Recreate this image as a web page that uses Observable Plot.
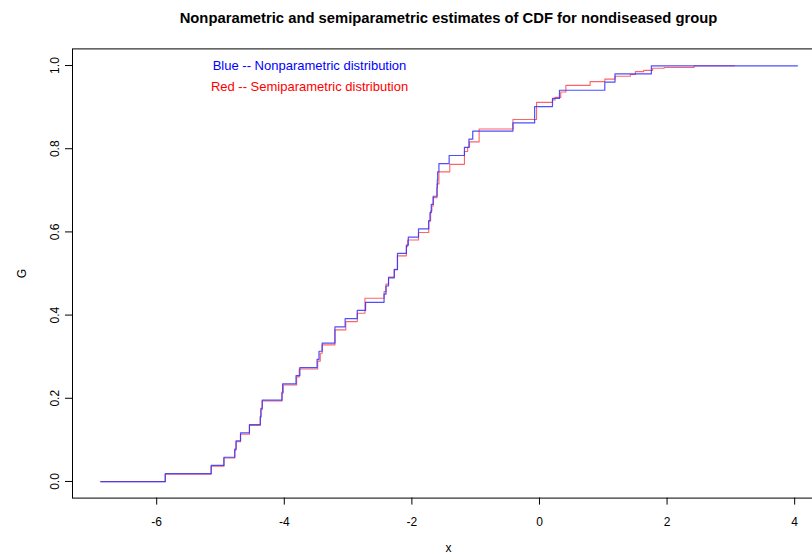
<!DOCTYPE html>
<html><head><meta charset="utf-8">
<script src="https://cdn.jsdelivr.net/npm/d3@7"></script>
<script src="https://cdn.jsdelivr.net/npm/@observablehq/plot@0.6"></script>
<style>
html,body{margin:0;padding:0;background:#fff;overflow:hidden;}
</style></head><body><div id="chart"></div>
<script>
const title = "Nonparametric and semiparametric estimates of CDF for nondiseased group";
const legendLabels = ["Blue -- Nonparametric distribution", "Red -- Semiparametric distribution"];
const legendColors = ["blue", "red"];
const xLabel = "x";
const yLabel = "G";
const xTicks = [-6, -4, -2, 0, 2, 4];
const yTicks = [0, 0.2, 0.4, 0.6, 0.8, 1.0];

// Nonparametric (blue) step function: jump locations and CDF level after jump
const blueX = [-6.88, -5.87, -5.15, -4.95, -4.78, -4.76, -4.69, -4.55, -4.38, -4.37, -4.35, -4.04, -4.03, -3.82, -3.76, -3.49, -3.46, -3.41, -3.21, -3.05, -2.86, -2.73, -2.44, -2.41, -2.37, -2.28, -2.23, -2.09, -2.06, -1.90, -1.74, -1.72, -1.70, -1.67, -1.61, -1.605, -1.60, -1.58, -1.42, -1.18, -1.11, -1.05, -0.42, -0.08, 0.20, 0.31, 1.02, 1.18, 1.75, 4.04];
const blueG = [0, .0196, .0392, .0588, .0784, .098, .1176, .1373, .1569, .1765, .1961, .2157, .2353, .2549, .2745, .2941, .3137, .3333, .3725, .3922, .4118, .4314, .451, .4706, .4902, .5098, .549, .5686, .5882, .6078, .6275, .6471, .6667, .6863, .7059, .7255, .7451, .7647, .7843, .8039, .8235, .8431, .8627, .902, .9216, .9412, .9608, .9804, 1, 1];

// Semiparametric (red) step function
const redX = [-6.88, -5.87, -5.15, -4.95, -4.78, -4.76, -4.69, -4.55, -4.38, -4.37, -4.35, -4.04, -4.02, -3.81, -3.77, -3.48, -3.44, -3.41, -3.21, -3.04, -2.86, -2.74, -2.44, -2.41, -2.37, -2.28, -2.23, -2.09, -2.07, -1.90, -1.74, -1.71, -1.69, -1.67, -1.61, -1.58, -1.41, -1.18, -1.13, -1.10, -0.95, -0.42, -0.05, 0.20, 0.24, 0.33, 0.41, 0.79, 1.02, 1.18, 1.42, 1.50, 1.63, 1.77, 1.95, 2.42, 3.05];
const redG = [0, .018, .037, .057, .076, .096, .114, .135, .154, .173, .194, .213, .2325, .252, .271, .29, .309, .329, .365, .385, .405, .441, .457, .475, .492, .511, .543, .565, .581, .599, .627, .651, .663, .683, .716, .745, .763, .794, .804, .817, .848, .871, .912, .918, .924, .937, .953, .962, .968, .975, .979, .986, .989, .994, .996, 1, 1];

const blue = blueX.map((x, i) => ({x, g: blueG[i]}));
const red = redX.map((x, i) => ({x, g: redG[i]}));

const font = "'Liberation Sans', Arial, Helvetica, sans-serif";

const chart = Plot.plot({
  width: 812,
  height: 556,
  marginLeft: 72,
  marginRight: -12,
  marginTop: 48.4,
  marginBottom: 58.4,
  style: {fontFamily: font, fontSize: "12px", background: "white", overflow: "hidden", color: "black"},
  x: {domain: [-7.3197, 4.4676], label: null},
  y: {domain: [-0.04, 1.04], label: null},
  marks: [
    Plot.line(red, {x: "x", y: "g", curve: "step-after", stroke: "#ff3030", strokeWidth: 1.1, strokeOpacity: 0.75, dx: 0.25, dy: 0.25}),
    Plot.line(blue, {x: "x", y: "g", curve: "step-after", stroke: "#3030ff", strokeWidth: 1.2, strokeOpacity: 0.85, dx: 0.25, dy: 0.25}),
    Plot.frame({stroke: "black", strokeWidth: 1}),
    Plot.axisX(xTicks, {tickSize: 7, tickPadding: 12, tickFormat: d => String(d), label: null, fontSize: 12, stroke: "black"}),
    Plot.axisY(yTicks, {tickSize: 7, tickFormat: () => "", label: null, stroke: "black"}),
    Plot.text(yTicks, {y: d => d, text: d => d.toFixed(1), frameAnchor: "left", dx: -14, rotate: -90, textAnchor: "middle", lineAnchor: "bottom", fontSize: 12, fill: "black"}),
    Plot.text([title], {frameAnchor: "top", dy: -30.4, lineAnchor: "middle", fontWeight: "bold", fontSize: 14.8, fill: "black"}),
    ...legendLabels.map((t, i) => Plot.text([t], {frameAnchor: "top-left", dx: 237, dy: 16.6 + 21 * i, textAnchor: "middle", lineAnchor: "middle", fontSize: 13, fill: legendColors[i]})),
    Plot.text([xLabel], {frameAnchor: "bottom", dy: 50.4, lineAnchor: "middle", fontSize: 12, fill: "black"}),
    Plot.text([yLabel], {frameAnchor: "left", dx: -50, rotate: -90, textAnchor: "middle", lineAnchor: "middle", fontSize: 12, fill: "black"})
  ]
});
document.getElementById("chart").appendChild(chart);
</script>
</body></html>
